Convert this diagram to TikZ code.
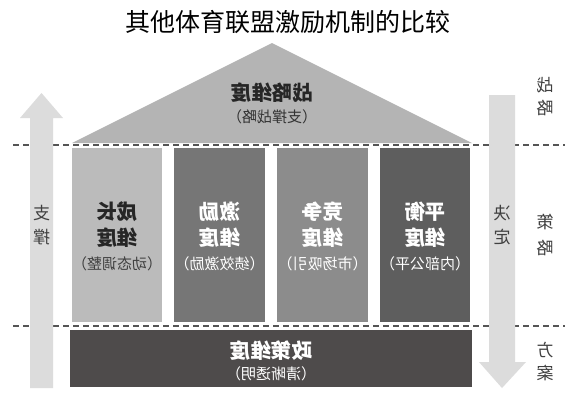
\documentclass[tikz,border=0pt]{standalone}
\usepackage{fontspec}
\setmainfont{Noto Sans CJK SC}
\newfontfamily\cjk{Noto Sans CJK SC}
\definecolor{roofc}{HTML}{B4B4B4}
\definecolor{colA}{HTML}{BBBBBB}
\definecolor{colB}{HTML}{767676}
\definecolor{colC}{HTML}{8C8C8C}
\definecolor{colD}{HTML}{5E5E5E}
\definecolor{baseC}{HTML}{4E4B4B}
\definecolor{arrowC}{HTML}{DCDCDC}
\definecolor{dashC}{HTML}{555555}
\begin{document}
\begin{tikzpicture}[x=1pt,y=-1pt,
  head/.style={font=\cjk\bfseries\fontsize{20.5}{20.5}\selectfont, inner sep=0},
  subtxt/.style={font=\cjk\fontsize{15}{15}\selectfont, inner sep=0},
  sidetxt/.style={font=\cjk\fontsize{17}{17}\selectfont, text=black!75, inner sep=0},
  dashline/.style={draw=dashC, line width=1.3pt, dash pattern=on 6pt off 4pt},
  bigarrow/.style={fill=arrowC, draw=none}]
\useasboundingbox (0,0) rectangle (577,400);
\fill[white] (0,0) rectangle (577,400);
% title
\node[font=\cjk\fontsize{25}{25}\selectfont, inner sep=0] (title) at (288,22) {其他体育联盟激励机制的比较};
% roof
\fill[roofc] (272,43) -- (472,143) -- (72,143) -- cycle;
\node[head, text=black!85] (roofA) at (272,93) {\reflectbox{战略维度}};
\node[subtxt, text=black!80] (roofB) at (272,117) {\reflectbox{（支撑战略）}};
% dashed lines
\draw[dashline] (13,145) -- (565,145);
\draw[dashline] (13,326) -- (565,326);
% columns
\fill[colA] (72,148) rectangle (162,322);
\fill[colB] (174,148) rectangle (265,322);
\fill[colC] (277,148) rectangle (368,322);
\fill[colD] (380,148) rectangle (470,322);
\node[head, text=black!85] (c1a) at (117,212) {\reflectbox{成长}};
\node[head, text=black!85] (c1b) at (117,238) {\reflectbox{维度}};
\node[subtxt, text=black!75] (c1c) at (117,264) {\reflectbox{（动态调整）}};
\node[head, text=white] (c2a) at (219.5,212) {\reflectbox{激励}};
\node[head, text=white] (c2b) at (219.5,238) {\reflectbox{维度}};
\node[subtxt, text=white] (c2c) at (219.5,264) {\reflectbox{（绩效激励）}};
\node[head, text=white] (c3a) at (322.5,212) {\reflectbox{竞争}};
\node[head, text=white] (c3b) at (322.5,238) {\reflectbox{维度}};
\node[subtxt, text=white] (c3c) at (322.5,264) {\reflectbox{（市场吸引）}};
\node[head, text=white] (c4a) at (425,212) {\reflectbox{平衡}};
\node[head, text=white] (c4b) at (425,238) {\reflectbox{维度}};
\node[subtxt, text=white] (c4c) at (425,264) {\reflectbox{（内部公平）}};
% base
\fill[baseC] (70,330) rectangle (472,387);
\node[head, text=white] (b1) at (271,351) {\reflectbox{政策维度}};
\node[subtxt, text=white] (b2) at (271,374) {\reflectbox{（清晰透明）}};
% arrows
\fill[bigarrow] (30,388) -- (30,118) -- (20,118) -- (41.5,93) -- (63,118) -- (53,118) -- (53,388) -- cycle;
\fill[bigarrow] (489,95) -- (515,95) -- (515,362) -- (526,362) -- (502,388) -- (479,362) -- (489,362) -- cycle;
\node[sidetxt] (l1) at (41.5,213) {\reflectbox{支}};
\node[sidetxt] (l2) at (41.5,237) {\reflectbox{撑}};
\node[sidetxt] (r1) at (502,213) {\reflectbox{决}};
\node[sidetxt] (r2) at (502,237) {\reflectbox{定}};
% right labels
\node[sidetxt] (s1) at (545,85) {\reflectbox{战}};
\node[sidetxt] (s2) at (545,108) {\reflectbox{略}};
\node[sidetxt] (s3) at (545,222) {\reflectbox{策}};
\node[sidetxt] (s4) at (545,248) {\reflectbox{略}};
\node[sidetxt] (s5) at (545,350) {\reflectbox{方}};
\node[sidetxt] (s6) at (545,373) {\reflectbox{案}};
\end{tikzpicture}
\end{document}
